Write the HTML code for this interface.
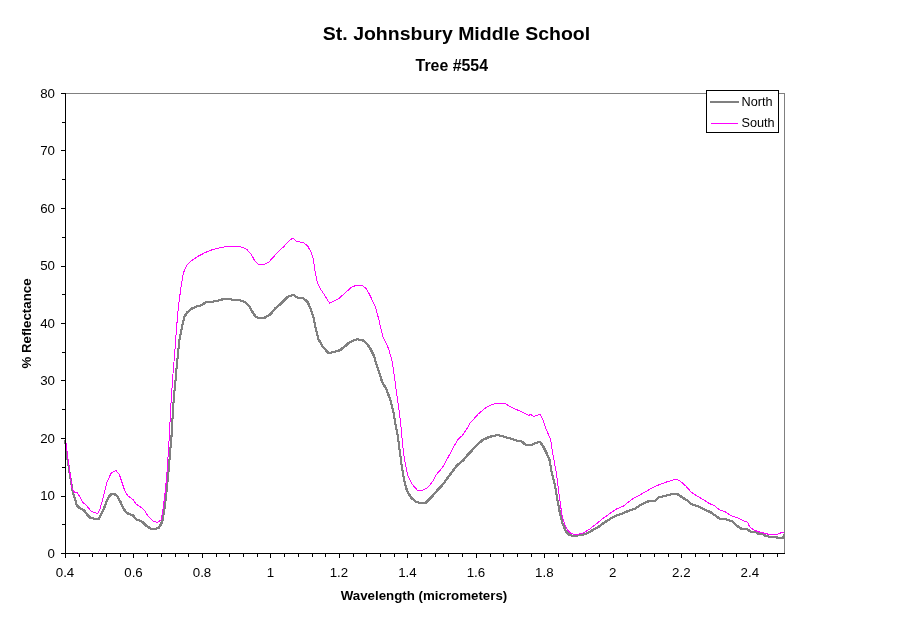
<!DOCTYPE html>
<html><head><meta charset="utf-8"><title>St. Johnsbury Middle School</title>
<style>
html,body{margin:0;padding:0;background:#fff;}
body{width:911px;height:623px;overflow:hidden;font-family:"Liberation Sans",sans-serif;}
svg{display:block;will-change:transform;}
text{font-family:"Liberation Sans",sans-serif;fill:#000;}
.t{font-size:13.3px;}
.b{font-size:13.3px;font-weight:bold;}
</style></head><body>
<svg width="911" height="623" viewBox="0 0 911 623">
<rect x="0" y="0" width="911" height="623" fill="#fff"/>
<text transform="translate(456.5,40.4) scale(1,0.93)" text-anchor="middle" style="font-size:19.5px;font-weight:bold">St. Johnsbury Middle School</text>
<text x="451.8" y="71" text-anchor="middle" style="font-size:15.9px;font-weight:bold">Tree #554</text>
<!-- plot border -->
<rect x="65" y="93" width="720" height="1" fill="#808080"/>
<rect x="784" y="93" width="1" height="461" fill="#808080"/>
<!-- series -->
<g fill="none" stroke="#808080" stroke-width="1" stroke-linejoin="round" shape-rendering="crispEdges">
<polyline id="n" points="65.2,440.0 66.3,450.9 69.4,471.7 72.9,492.6 75.0,498.8 76.7,505.5 79.8,508.2 84.0,510.3 87.1,514.5 90.3,518.0 94.4,518.7 98.6,519.3 101.7,513.5 104.9,506.2 108.0,497.8 111.1,494.3 114.2,493.8 117.4,496.3 120.5,502.0 123.6,508.9 126.8,513.0 133.0,515.5 136.2,519.3 140.3,520.8 143.5,522.8 146.6,526.0 150.8,528.5 154.9,529.3 159.1,527.6 162.2,521.8 164.3,510.3 166.4,492.6 168.5,471.7 170.6,446.7 171.6,435.0 172.7,415.4 173.9,396.2 175.1,385.0 177.3,360.0 179.5,340.0 182.3,325.1 184.4,316.8 187.1,312.6 190.7,309.1 195.9,306.8 201.1,305.3 205.3,302.6 210.5,301.8 216.8,301.2 222.0,299.5 228.2,299.3 234.5,299.7 239.7,300.1 244.9,302.2 249.1,306.0 252.2,311.6 255.4,316.4 259.5,318.5 263.7,318.3 270.0,314.7 275.2,308.5 281.4,303.2 287.7,297.0 291.9,295.2 294.2,295.5 298.3,298.0 303.6,298.4 307.7,302.2 310.9,309.5 313.4,316.8 315.5,327.2 318.2,338.7 322.3,346.0 328.6,353.3 333.8,351.9 340.1,350.2 345.3,346.0 349.5,342.3 356.8,339.3 362.0,339.8 365.4,342.1 369.6,347.3 373.8,355.6 378.0,369.2 382.1,381.7 386.3,389.0 390.5,400.5 393.6,413.0 395.7,425.5 397.8,436.0 399.5,449.0 401.7,465.5 404.2,480.1 406.9,490.5 411.1,497.8 416.3,502.0 421.5,503.0 425.7,503.0 430.9,497.8 437.2,490.5 443.4,483.8 449.7,474.9 457.0,465.5 463.2,460.3 468.5,454.0 475.8,446.3 482.0,440.4 489.3,436.9 497.5,435.0 504.6,436.9 511.9,439.0 517.1,440.7 521.3,441.1 525.5,444.7 531.7,444.7 536.9,442.6 540.1,442.2 543.2,446.3 546.3,452.6 549.5,459.9 551.5,471.4 554.7,483.9 557.2,498.5 559.6,511.4 562.7,523.9 565.9,531.2 569.6,535.4 576.3,535.8 584.6,534.3 590.9,531.2 598.2,527.0 605.5,521.8 613.9,516.6 622.2,513.5 628.5,510.9 634.7,508.9 641.0,504.7 649.3,500.9 655.6,500.5 658.7,497.4 666.0,495.7 673.3,493.9 678.0,494.5 682.9,497.8 688.2,500.9 691.3,504.1 697.6,506.2 703.8,509.3 710.1,512.0 715.3,515.5 719.5,518.7 725.7,519.3 732.0,521.2 737.2,526.0 741.4,528.7 746.6,529.1 750.8,531.6 756.0,532.2 759.1,534.3 763.3,534.3 766.4,536.4 773.7,536.8 777.9,537.7 783.1,537.7 784.3,535.0" transform="translate(-0.5,-0.5)"/>
<polyline points="65.2,440.0 66.3,450.9 69.4,471.7 72.9,492.6 75.0,498.8 76.7,505.5 79.8,508.2 84.0,510.3 87.1,514.5 90.3,518.0 94.4,518.7 98.6,519.3 101.7,513.5 104.9,506.2 108.0,497.8 111.1,494.3 114.2,493.8 117.4,496.3 120.5,502.0 123.6,508.9 126.8,513.0 133.0,515.5 136.2,519.3 140.3,520.8 143.5,522.8 146.6,526.0 150.8,528.5 154.9,529.3 159.1,527.6 162.2,521.8 164.3,510.3 166.4,492.6 168.5,471.7 170.6,446.7 171.6,435.0 172.7,415.4 173.9,396.2 175.1,385.0 177.3,360.0 179.5,340.0 182.3,325.1 184.4,316.8 187.1,312.6 190.7,309.1 195.9,306.8 201.1,305.3 205.3,302.6 210.5,301.8 216.8,301.2 222.0,299.5 228.2,299.3 234.5,299.7 239.7,300.1 244.9,302.2 249.1,306.0 252.2,311.6 255.4,316.4 259.5,318.5 263.7,318.3 270.0,314.7 275.2,308.5 281.4,303.2 287.7,297.0 291.9,295.2 294.2,295.5 298.3,298.0 303.6,298.4 307.7,302.2 310.9,309.5 313.4,316.8 315.5,327.2 318.2,338.7 322.3,346.0 328.6,353.3 333.8,351.9 340.1,350.2 345.3,346.0 349.5,342.3 356.8,339.3 362.0,339.8 365.4,342.1 369.6,347.3 373.8,355.6 378.0,369.2 382.1,381.7 386.3,389.0 390.5,400.5 393.6,413.0 395.7,425.5 397.8,436.0 399.5,449.0 401.7,465.5 404.2,480.1 406.9,490.5 411.1,497.8 416.3,502.0 421.5,503.0 425.7,503.0 430.9,497.8 437.2,490.5 443.4,483.8 449.7,474.9 457.0,465.5 463.2,460.3 468.5,454.0 475.8,446.3 482.0,440.4 489.3,436.9 497.5,435.0 504.6,436.9 511.9,439.0 517.1,440.7 521.3,441.1 525.5,444.7 531.7,444.7 536.9,442.6 540.1,442.2 543.2,446.3 546.3,452.6 549.5,459.9 551.5,471.4 554.7,483.9 557.2,498.5 559.6,511.4 562.7,523.9 565.9,531.2 569.6,535.4 576.3,535.8 584.6,534.3 590.9,531.2 598.2,527.0 605.5,521.8 613.9,516.6 622.2,513.5 628.5,510.9 634.7,508.9 641.0,504.7 649.3,500.9 655.6,500.5 658.7,497.4 666.0,495.7 673.3,493.9 678.0,494.5 682.9,497.8 688.2,500.9 691.3,504.1 697.6,506.2 703.8,509.3 710.1,512.0 715.3,515.5 719.5,518.7 725.7,519.3 732.0,521.2 737.2,526.0 741.4,528.7 746.6,529.1 750.8,531.6 756.0,532.2 759.1,534.3 763.3,534.3 766.4,536.4 773.7,536.8 777.9,537.7 783.1,537.7 784.3,535.0" transform="translate(0.5,-0.5)"/>
<polyline points="65.2,440.0 66.3,450.9 69.4,471.7 72.9,492.6 75.0,498.8 76.7,505.5 79.8,508.2 84.0,510.3 87.1,514.5 90.3,518.0 94.4,518.7 98.6,519.3 101.7,513.5 104.9,506.2 108.0,497.8 111.1,494.3 114.2,493.8 117.4,496.3 120.5,502.0 123.6,508.9 126.8,513.0 133.0,515.5 136.2,519.3 140.3,520.8 143.5,522.8 146.6,526.0 150.8,528.5 154.9,529.3 159.1,527.6 162.2,521.8 164.3,510.3 166.4,492.6 168.5,471.7 170.6,446.7 171.6,435.0 172.7,415.4 173.9,396.2 175.1,385.0 177.3,360.0 179.5,340.0 182.3,325.1 184.4,316.8 187.1,312.6 190.7,309.1 195.9,306.8 201.1,305.3 205.3,302.6 210.5,301.8 216.8,301.2 222.0,299.5 228.2,299.3 234.5,299.7 239.7,300.1 244.9,302.2 249.1,306.0 252.2,311.6 255.4,316.4 259.5,318.5 263.7,318.3 270.0,314.7 275.2,308.5 281.4,303.2 287.7,297.0 291.9,295.2 294.2,295.5 298.3,298.0 303.6,298.4 307.7,302.2 310.9,309.5 313.4,316.8 315.5,327.2 318.2,338.7 322.3,346.0 328.6,353.3 333.8,351.9 340.1,350.2 345.3,346.0 349.5,342.3 356.8,339.3 362.0,339.8 365.4,342.1 369.6,347.3 373.8,355.6 378.0,369.2 382.1,381.7 386.3,389.0 390.5,400.5 393.6,413.0 395.7,425.5 397.8,436.0 399.5,449.0 401.7,465.5 404.2,480.1 406.9,490.5 411.1,497.8 416.3,502.0 421.5,503.0 425.7,503.0 430.9,497.8 437.2,490.5 443.4,483.8 449.7,474.9 457.0,465.5 463.2,460.3 468.5,454.0 475.8,446.3 482.0,440.4 489.3,436.9 497.5,435.0 504.6,436.9 511.9,439.0 517.1,440.7 521.3,441.1 525.5,444.7 531.7,444.7 536.9,442.6 540.1,442.2 543.2,446.3 546.3,452.6 549.5,459.9 551.5,471.4 554.7,483.9 557.2,498.5 559.6,511.4 562.7,523.9 565.9,531.2 569.6,535.4 576.3,535.8 584.6,534.3 590.9,531.2 598.2,527.0 605.5,521.8 613.9,516.6 622.2,513.5 628.5,510.9 634.7,508.9 641.0,504.7 649.3,500.9 655.6,500.5 658.7,497.4 666.0,495.7 673.3,493.9 678.0,494.5 682.9,497.8 688.2,500.9 691.3,504.1 697.6,506.2 703.8,509.3 710.1,512.0 715.3,515.5 719.5,518.7 725.7,519.3 732.0,521.2 737.2,526.0 741.4,528.7 746.6,529.1 750.8,531.6 756.0,532.2 759.1,534.3 763.3,534.3 766.4,536.4 773.7,536.8 777.9,537.7 783.1,537.7 784.3,535.0" transform="translate(-0.5,0.5)"/>
<polyline points="65.2,440.0 66.3,450.9 69.4,471.7 72.9,492.6 75.0,498.8 76.7,505.5 79.8,508.2 84.0,510.3 87.1,514.5 90.3,518.0 94.4,518.7 98.6,519.3 101.7,513.5 104.9,506.2 108.0,497.8 111.1,494.3 114.2,493.8 117.4,496.3 120.5,502.0 123.6,508.9 126.8,513.0 133.0,515.5 136.2,519.3 140.3,520.8 143.5,522.8 146.6,526.0 150.8,528.5 154.9,529.3 159.1,527.6 162.2,521.8 164.3,510.3 166.4,492.6 168.5,471.7 170.6,446.7 171.6,435.0 172.7,415.4 173.9,396.2 175.1,385.0 177.3,360.0 179.5,340.0 182.3,325.1 184.4,316.8 187.1,312.6 190.7,309.1 195.9,306.8 201.1,305.3 205.3,302.6 210.5,301.8 216.8,301.2 222.0,299.5 228.2,299.3 234.5,299.7 239.7,300.1 244.9,302.2 249.1,306.0 252.2,311.6 255.4,316.4 259.5,318.5 263.7,318.3 270.0,314.7 275.2,308.5 281.4,303.2 287.7,297.0 291.9,295.2 294.2,295.5 298.3,298.0 303.6,298.4 307.7,302.2 310.9,309.5 313.4,316.8 315.5,327.2 318.2,338.7 322.3,346.0 328.6,353.3 333.8,351.9 340.1,350.2 345.3,346.0 349.5,342.3 356.8,339.3 362.0,339.8 365.4,342.1 369.6,347.3 373.8,355.6 378.0,369.2 382.1,381.7 386.3,389.0 390.5,400.5 393.6,413.0 395.7,425.5 397.8,436.0 399.5,449.0 401.7,465.5 404.2,480.1 406.9,490.5 411.1,497.8 416.3,502.0 421.5,503.0 425.7,503.0 430.9,497.8 437.2,490.5 443.4,483.8 449.7,474.9 457.0,465.5 463.2,460.3 468.5,454.0 475.8,446.3 482.0,440.4 489.3,436.9 497.5,435.0 504.6,436.9 511.9,439.0 517.1,440.7 521.3,441.1 525.5,444.7 531.7,444.7 536.9,442.6 540.1,442.2 543.2,446.3 546.3,452.6 549.5,459.9 551.5,471.4 554.7,483.9 557.2,498.5 559.6,511.4 562.7,523.9 565.9,531.2 569.6,535.4 576.3,535.8 584.6,534.3 590.9,531.2 598.2,527.0 605.5,521.8 613.9,516.6 622.2,513.5 628.5,510.9 634.7,508.9 641.0,504.7 649.3,500.9 655.6,500.5 658.7,497.4 666.0,495.7 673.3,493.9 678.0,494.5 682.9,497.8 688.2,500.9 691.3,504.1 697.6,506.2 703.8,509.3 710.1,512.0 715.3,515.5 719.5,518.7 725.7,519.3 732.0,521.2 737.2,526.0 741.4,528.7 746.6,529.1 750.8,531.6 756.0,532.2 759.1,534.3 763.3,534.3 766.4,536.4 773.7,536.8 777.9,537.7 783.1,537.7 784.3,535.0" transform="translate(0.5,0.5)"/>
</g>
<polyline points="65.2,436.3 68.3,461.3 72.1,488.4 74.6,492.6 77.1,492.6 79.8,496.8 82.5,502.0 86.1,505.1 91.3,511.4 97.6,513.5 99.6,510.3 102.8,498.8 106.9,482.2 111.1,473.2 115.9,470.3 119.5,474.9 124.7,490.5 127.8,495.7 133.0,499.5 136.2,504.1 141.4,507.6 144.5,510.3 147.6,515.5 153.9,521.8 158.1,522.2 161.2,519.7 163.3,507.2 165.4,490.5 167.4,467.6 168.9,442.5 169.7,430.0 170.4,413.0 171.5,395.4 173.0,373.7 174.6,354.4 176.1,333.5 178.2,308.5 180.9,287.6 183.4,273.0 186.5,265.7 191.7,260.5 198.0,256.3 205.3,252.5 212.6,249.6 220.9,247.5 228.2,246.5 235.5,246.3 241.8,247.1 247.0,249.6 251.2,254.2 254.3,260.0 257.4,263.6 260.6,265.0 264.7,264.2 268.9,262.1 273.1,257.3 278.3,251.7 283.5,246.9 288.7,241.3 292.7,238.1 296.3,241.3 303.6,242.7 307.7,245.9 310.9,252.1 313.4,259.4 315.0,270.9 317.5,283.4 320.3,288.6 324.4,294.9 329.6,303.2 333.8,301.2 339.0,298.4 345.3,292.8 351.5,287.2 356.8,285.1 362.0,285.1 366.2,288.6 370.3,295.9 375.5,307.4 378.7,318.9 382.8,336.6 386.0,343.0 388.4,348.3 392.1,360.9 394.6,377.6 396.7,394.2 399.2,410.9 401.3,429.7 402.9,447.5 404.8,461.3 407.9,475.9 412.1,484.2 417.3,490.1 422.6,490.1 427.8,487.4 433.0,481.1 436.1,474.9 442.4,467.6 447.6,458.2 453.8,446.7 458.0,439.4 462.3,435.5 467.4,428.0 469.8,423.5 478.1,414.1 486.4,407.2 492.7,404.3 499.0,403.2 504.6,403.1 510.9,407.1 517.1,409.8 523.4,412.5 528.6,415.5 530.7,414.4 533.8,416.5 536.9,415.5 540.1,414.0 543.2,420.3 546.3,429.6 550.5,439.0 552.6,452.6 555.7,469.3 557.8,483.9 559.9,500.6 561.8,514.0 563.8,521.8 566.9,529.1 571.1,533.7 576.3,534.7 582.6,533.3 588.8,529.7 595.1,524.9 601.3,519.7 607.6,515.1 615.9,509.3 623.2,506.2 632.6,498.8 641.0,494.3 649.3,489.5 657.7,485.3 666.0,482.2 672.3,480.1 676.5,479.2 680.9,481.7 686.1,486.3 691.3,492.2 697.6,496.3 703.8,499.9 709.0,503.4 714.2,505.5 719.5,509.9 724.7,511.4 730.9,515.5 737.2,517.6 743.5,520.8 747.6,522.2 749.7,527.0 753.9,530.1 760.1,532.2 766.4,533.7 770.6,534.9 778.9,533.9 782.1,532.2 784.4,533.3" fill="none" stroke="#ff00ff" stroke-width="1" stroke-linejoin="round" shape-rendering="crispEdges"/>
<!-- axes -->
<rect x="65" y="93" width="1" height="461" fill="#000"/>
<rect x="65" y="553" width="720" height="1" fill="#000"/>
<rect x="61" y="553" width="4" height="1" fill="#000"/>
<rect x="62" y="524" width="3" height="1" fill="#000"/>
<rect x="61" y="496" width="4" height="1" fill="#000"/>
<rect x="62" y="467" width="3" height="1" fill="#000"/>
<rect x="61" y="438" width="4" height="1" fill="#000"/>
<rect x="62" y="409" width="3" height="1" fill="#000"/>
<rect x="61" y="380" width="4" height="1" fill="#000"/>
<rect x="62" y="352" width="3" height="1" fill="#000"/>
<rect x="61" y="323" width="4" height="1" fill="#000"/>
<rect x="62" y="294" width="3" height="1" fill="#000"/>
<rect x="61" y="266" width="4" height="1" fill="#000"/>
<rect x="62" y="237" width="3" height="1" fill="#000"/>
<rect x="61" y="208" width="4" height="1" fill="#000"/>
<rect x="62" y="179" width="3" height="1" fill="#000"/>
<rect x="61" y="150" width="4" height="1" fill="#000"/>
<rect x="62" y="122" width="3" height="1" fill="#000"/>
<rect x="61" y="93" width="4" height="1" fill="#000"/>
<rect x="65" y="553" width="1" height="5" fill="#000"/>
<rect x="79" y="553" width="1" height="4" fill="#000"/>
<rect x="92" y="553" width="1" height="4" fill="#000"/>
<rect x="106" y="553" width="1" height="4" fill="#000"/>
<rect x="120" y="553" width="1" height="4" fill="#000"/>
<rect x="133" y="553" width="1" height="5" fill="#000"/>
<rect x="147" y="553" width="1" height="4" fill="#000"/>
<rect x="161" y="553" width="1" height="4" fill="#000"/>
<rect x="175" y="553" width="1" height="4" fill="#000"/>
<rect x="188" y="553" width="1" height="4" fill="#000"/>
<rect x="202" y="553" width="1" height="5" fill="#000"/>
<rect x="216" y="553" width="1" height="4" fill="#000"/>
<rect x="229" y="553" width="1" height="4" fill="#000"/>
<rect x="243" y="553" width="1" height="4" fill="#000"/>
<rect x="257" y="553" width="1" height="4" fill="#000"/>
<rect x="270" y="553" width="1" height="5" fill="#000"/>
<rect x="284" y="553" width="1" height="4" fill="#000"/>
<rect x="298" y="553" width="1" height="4" fill="#000"/>
<rect x="312" y="553" width="1" height="4" fill="#000"/>
<rect x="325" y="553" width="1" height="4" fill="#000"/>
<rect x="339" y="553" width="1" height="5" fill="#000"/>
<rect x="353" y="553" width="1" height="4" fill="#000"/>
<rect x="366" y="553" width="1" height="4" fill="#000"/>
<rect x="380" y="553" width="1" height="4" fill="#000"/>
<rect x="394" y="553" width="1" height="4" fill="#000"/>
<rect x="407" y="553" width="1" height="5" fill="#000"/>
<rect x="421" y="553" width="1" height="4" fill="#000"/>
<rect x="435" y="553" width="1" height="4" fill="#000"/>
<rect x="448" y="553" width="1" height="4" fill="#000"/>
<rect x="462" y="553" width="1" height="4" fill="#000"/>
<rect x="476" y="553" width="1" height="5" fill="#000"/>
<rect x="490" y="553" width="1" height="4" fill="#000"/>
<rect x="503" y="553" width="1" height="4" fill="#000"/>
<rect x="517" y="553" width="1" height="4" fill="#000"/>
<rect x="531" y="553" width="1" height="4" fill="#000"/>
<rect x="544" y="553" width="1" height="5" fill="#000"/>
<rect x="558" y="553" width="1" height="4" fill="#000"/>
<rect x="572" y="553" width="1" height="4" fill="#000"/>
<rect x="585" y="553" width="1" height="4" fill="#000"/>
<rect x="599" y="553" width="1" height="4" fill="#000"/>
<rect x="613" y="553" width="1" height="5" fill="#000"/>
<rect x="627" y="553" width="1" height="4" fill="#000"/>
<rect x="640" y="553" width="1" height="4" fill="#000"/>
<rect x="654" y="553" width="1" height="4" fill="#000"/>
<rect x="668" y="553" width="1" height="4" fill="#000"/>
<rect x="681" y="553" width="1" height="5" fill="#000"/>
<rect x="695" y="553" width="1" height="4" fill="#000"/>
<rect x="709" y="553" width="1" height="4" fill="#000"/>
<rect x="722" y="553" width="1" height="4" fill="#000"/>
<rect x="736" y="553" width="1" height="4" fill="#000"/>
<rect x="750" y="553" width="1" height="5" fill="#000"/>
<rect x="763" y="553" width="1" height="4" fill="#000"/>
<rect x="777" y="553" width="1" height="4" fill="#000"/>
<text x="55" y="557.6" text-anchor="end" class="t">0</text>
<text x="55" y="500.1" text-anchor="end" class="t">10</text>
<text x="55" y="442.6" text-anchor="end" class="t">20</text>
<text x="55" y="385.1" text-anchor="end" class="t">30</text>
<text x="55" y="327.6" text-anchor="end" class="t">40</text>
<text x="55" y="270.1" text-anchor="end" class="t">50</text>
<text x="55" y="212.6" text-anchor="end" class="t">60</text>
<text x="55" y="155.1" text-anchor="end" class="t">70</text>
<text x="55" y="97.6" text-anchor="end" class="t">80</text>
<text x="65.0" y="577" text-anchor="middle" class="t">0.4</text>
<text x="133.5" y="577" text-anchor="middle" class="t">0.6</text>
<text x="202.0" y="577" text-anchor="middle" class="t">0.8</text>
<text x="270.4" y="577" text-anchor="middle" class="t">1</text>
<text x="338.9" y="577" text-anchor="middle" class="t">1.2</text>
<text x="407.4" y="577" text-anchor="middle" class="t">1.4</text>
<text x="475.9" y="577" text-anchor="middle" class="t">1.6</text>
<text x="544.3" y="577" text-anchor="middle" class="t">1.8</text>
<text x="612.8" y="577" text-anchor="middle" class="t">2</text>
<text x="681.3" y="577" text-anchor="middle" class="t">2.2</text>
<text x="749.8" y="577" text-anchor="middle" class="t">2.4</text>
<text x="424" y="600" text-anchor="middle" class="b">Wavelength (micrometers)</text>
<text transform="translate(31.3,323.5) rotate(-90)" text-anchor="middle" class="b">% Reflectance</text>
<!-- legend -->
<rect x="706.5" y="90.5" width="72" height="42" fill="#fff" stroke="#000" stroke-width="1" shape-rendering="crispEdges"/>
<rect x="710" y="101" width="29" height="2" fill="#808080"/>
<rect x="711" y="123" width="27" height="1" fill="#ff00ff"/>
<text x="741.5" y="106" class="t" style="font-size:12.7px">North</text>
<text x="741.5" y="127" class="t" style="font-size:12.7px">South</text>
</svg>
</body></html>
